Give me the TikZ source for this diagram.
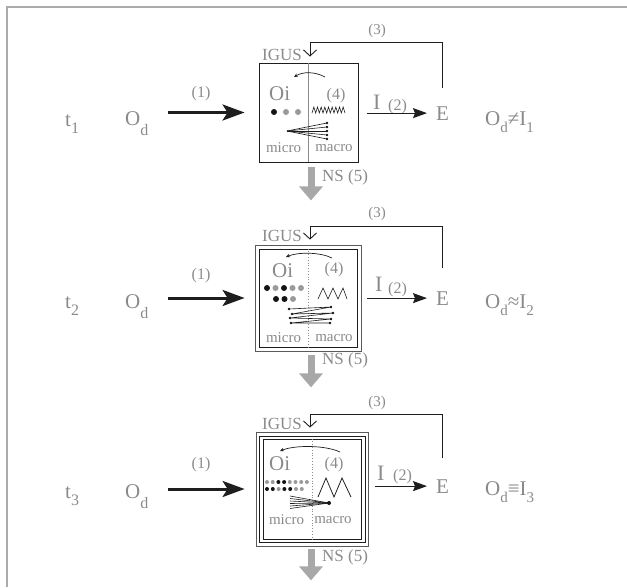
\documentclass[tikz,border=0pt]{standalone}
\usepackage{fontspec}
\setmainfont{Liberation Serif}
\usetikzlibrary{arrows.meta}
\definecolor{txt}{HTML}{8A8A8A}
\definecolor{ln}{HTML}{1E1E1E}
\definecolor{fr}{HTML}{ABABAB}
\definecolor{nsg}{HTML}{A8A8A8}
\definecolor{dotg}{HTML}{9A9A9A}
\definecolor{dk}{HTML}{141414}
\definecolor{boxo}{HTML}{5A5A5A}
\newcommand{\lsub}[3]{\raisebox{-#1pt}{\fontsize{#2}{#2}\selectfont #3}}
\begin{document}
\begin{tikzpicture}[x=1pt,y=-1pt,
  lbl/.style={text=txt,inner sep=0pt},
  fL/.style={font=\fontsize{21}{21}\selectfont},
  fO/.style={font=\fontsize{21}{21}\selectfont},
  fI/.style={font=\fontsize{22}{22}\selectfont},
  fM/.style={font=\fontsize{16}{16}\selectfont},
  fS/.style={font=\fontsize{15}{15}\selectfont},
  fN/.style={font=\fontsize{17}{17}\selectfont},
  fT/.style={font=\fontsize{15}{15}\selectfont},
  frameline/.style={draw=fr,line width=1.2pt},
  boxin/.style={draw=ln,line width=0.9pt,inner sep=0pt},
  boxout/.style={draw=boxo,line width=0.8pt,inner sep=0pt},
  divsolid/.style={draw=txt,line width=0.8pt},
  divdot/.style={draw=txt,line width=0.8pt,dotted},
  bigarrow/.style={draw=ln,line width=3pt,-{Stealth[length=22pt,width=16pt,inset=5pt]}},
  iarrow/.style={draw=ln,line width=1.2pt,-{Stealth[length=14pt,width=10pt,inset=2pt]}},
  fbline/.style={draw=ln,line width=0.9pt,-{Straight Barb[length=6pt,width=13pt]}},
  nsarrow/.style={draw=nsg,line width=7pt,-{Triangle[length=14pt,width=23pt]}},
  thinln/.style={draw=ln,line width=0.6pt},
  curvarrow/.style={draw=ln,line width=0.7pt,-{Stealth[length=4pt,width=3.5pt]}}
]
\useasboundingbox (0,0) rectangle (627,587);
\draw[frameline] (7,587) -- (7,7) -- (627,7);

% ================= ROW 1 =================
\node[boxin,minimum width=99pt,minimum height=99pt] (b1) at (308.5,112.5) {};
\draw[divsolid] (b1.north) -- (b1.south);
\node[lbl,fL,anchor=base west] (t1) at (65,126) {t\lsub{7}{16}{1}};
\node[lbl,fL,anchor=base west] (od1) at (125,125) {O\lsub{10}{16}{d}};
\node[lbl,fM] (one1) at (201,94) {(1)};
\draw[bigarrow,shorten <=19pt,shorten >=14pt] (od1.east |- b1.west) -- (b1.west);
\node[lbl,fL,anchor=base west] (e1) at (436,120) {E};
\node[lbl,fI,anchor=base west] (i1) at (373,109) {I};
\node[lbl,fM,anchor=base west] (two1) at (388,110) {(2)};
\draw[iarrow,shorten <=9pt,shorten >=9pt] (b1.east |- e1.west) -- (e1.west);
\node[lbl,fL,anchor=base west] (res1) at (485,125) {O\lsub{7}{15}{d}≠I\lsub{7}{15}{1}};
\node[lbl,fN,anchor=base west] (igus1) at (262,60) {IGUS};
\node[lbl,fS] (three1) at (377,30.5) {(3)};
\draw[fbline,shorten <=18pt,shorten >=6pt] (e1.north) -- (e1.north |- 0,42) -| ([xshift=1.5pt]b1.north);
\draw[nsarrow,shorten <=5pt] ([xshift=2.5pt]b1.south) -- ++(0,38);
\node[lbl,fN,anchor=west] (ns1) at (322,177) {NS (5)};
% internals
\draw[curvarrow] (325,77) .. controls (315,71.5) and (303,71.5) .. (294,77);
\node[lbl,fO,anchor=base west] (oi1) at (269,100) {Oi};
\node[lbl,fM] (four1) at (336,96) {(4)};
\fill[dk] (274,112) circle (3pt);
\fill[dotg] (286,112) circle (3pt);
\fill[dotg] (298,112) circle (3pt);
\draw[thinln] (312,113) \foreach \i in {1,...,18}{ -- ({312+1.8333*\i},{110+3*cos(180*\i)}) };
\foreach \yy in {123,127,131,135,139}{
  \draw[thinln] (287,131) -- (327,\yy);
  \fill[dk] (327,\yy) circle (1.3pt);
}
\node[lbl,fT] (mi1) at (283.5,148) {micro};
\node[lbl,fT] (ma1) at (334,148) {macro};

% ================= ROW 2 =================
\node[boxout,minimum width=106pt,minimum height=106pt] (b2o) at (308,298) {};
\node[boxin,minimum width=98pt,minimum height=98pt] (b2) at (308,298) {};
\draw[divdot] (b2.north) -- (b2.south);
\node[lbl,fL,anchor=base west] (t2) at (65,308) {t\lsub{7}{16}{2}};
\node[lbl,fL,anchor=base west] (od2) at (125,308) {O\lsub{10}{16}{d}};
\node[lbl,fM] (one2) at (201,276) {(1)};
\draw[bigarrow,shorten <=19pt,shorten >=10pt] (od2.east |- b2o.west) -- (b2o.west);
\node[lbl,fL,anchor=base west] (e2) at (436,305) {E};
\node[lbl,fI,anchor=base west] (i2) at (375,291) {I};
\node[lbl,fM,anchor=base west] (two2) at (388,293) {(2)};
\draw[iarrow,shorten <=6pt,shorten >=9pt] (b2o.east |- e2.west) -- (e2.west);
\node[lbl,fL,anchor=base west] (res2) at (485,308) {O\lsub{7}{15}{d}≈I\lsub{7}{15}{2}};
\node[lbl,fN,anchor=base west] (igus2) at (262,241) {IGUS};
\node[lbl,fS] (three2) at (377,214) {(3)};
\draw[fbline,shorten <=23pt,shorten >=5pt] (e2.north) -- (e2.north |- 0,226) -| ([xshift=2pt]b2o.north);
\draw[nsarrow,shorten <=4pt] ([xshift=3pt]b2o.south) -- ++(0,36);
\node[lbl,fN,anchor=west] (ns2) at (322,360) {NS (5)};
% internals
\draw[curvarrow] (332,258) .. controls (320,252) and (298,252) .. (286,257);
\node[lbl,fO,anchor=base west] (oi2) at (272,277) {Oi};
\node[lbl,fM] (four2) at (334,270) {(4)};
\foreach \xx/\cc in {267/dk,275.5/dotg,284/dk,292.5/dotg,301/dotg}{\fill[\cc] (\xx,288) circle (3pt);}
\foreach \xx/\cc in {276/dk,284.5/dk,293/dotg}{\fill[\cc] (\xx,299) circle (3pt);}
\draw[thinln] (318,299) -- (323,288) -- (328,299) -- (333,288) -- (338,299) -- (343,288) -- (347,299);
\draw[thinln] (289,309) -- (331,307) -- (292,314) -- (333,313) -- (290,318) -- (331,319) -- (291,323) -- (330,323);
\foreach \p in {(289,309),(331,307),(292,314),(333,313),(290,318),(331,319),(291,323),(330,323)}{\fill[dk] \p circle (1.3pt);}
\node[lbl,fT] (mi2) at (283.5,338) {micro};
\node[lbl,fT] (ma2) at (334,338) {macro};

% ================= ROW 3 =================
\node[boxout,minimum width=112pt,minimum height=114pt] (b3o) at (312,489) {};
\node[boxin,minimum width=106pt,minimum height=106pt] (b3m) at (312,489) {};
\node[boxin,minimum width=98pt,minimum height=100pt] (b3) at (312,489) {};
\draw[divdot] (b3.north) -- (b3.south);
\node[lbl,fL,anchor=base west] (t3) at (65,498) {t\lsub{7}{16}{3}};
\node[lbl,fL,anchor=base west] (od3) at (125,498) {O\lsub{10}{16}{d}};
\node[lbl,fM] (one3) at (201,465) {(1)};
\draw[bigarrow,shorten <=19pt,shorten >=11pt] (od3.east |- b3o.west) -- (b3o.west);
\node[lbl,fL,anchor=base west] (e3) at (436,493) {E};
\node[lbl,fI,anchor=base west] (i3) at (377,480) {I};
\node[lbl,fM,anchor=base west] (two3) at (393,480) {(2)};
\draw[iarrow,shorten <=7pt,shorten >=9pt] (b3o.east |- e3.west) -- (e3.west);
\node[lbl,fL,anchor=base west] (res3) at (485,495) {O\lsub{7}{15}{d}≡I\lsub{7}{15}{3}};
\node[lbl,fN,anchor=base west] (igus3) at (262,429) {IGUS};
\node[lbl,fS] (three3) at (377,403) {(3)};
\draw[fbline,shorten <=21pt,shorten >=4pt] (e3.north) -- (e3.north |- 0,414) -| ([xshift=-2pt]b3o.north);
\draw[nsarrow,shorten <=3pt] ([xshift=-1pt]b3o.south) -- ++(0,34);
\node[lbl,fN,anchor=west] (ns3) at (322,557) {NS (5)};
% internals
\draw[curvarrow] (340,452) .. controls (325,445) and (295,445) .. (280,451);
\node[lbl,fO,anchor=base west] (oi3) at (269,470) {Oi};
\node[lbl,fM] (four3) at (334,465) {(4)};
\foreach \xx/\cc in {267/dotg,272.7/dotg,278.4/dk,284.1/dk,289.8/dotg,295.5/dotg,301.2/dotg,306.9/dotg}{\fill[\cc] (\xx,482) circle (2pt);}
\foreach \xx/\cc in {267/dk,272.8/dk,278.6/dotg,284.4/dk,290.2/dk,296/dotg,301.8/dotg}{\fill[\cc] (\xx,489) circle (2pt);}
\draw[thinln,line width=0.8pt] (318,497) -- (326,478) -- (334,497) -- (342,478) -- (351,497);
\foreach \yy in {496,498.5,501,503.5,506,508.5}{\draw[thinln] (290,\yy) -- (329,503);}
\fill[dk] (329,503) circle (2pt);
\node[lbl,fT] (mi3) at (286.5,520) {micro};
\node[lbl,fT] (ma3) at (333,520) {macro};
\end{tikzpicture}
\end{document}
